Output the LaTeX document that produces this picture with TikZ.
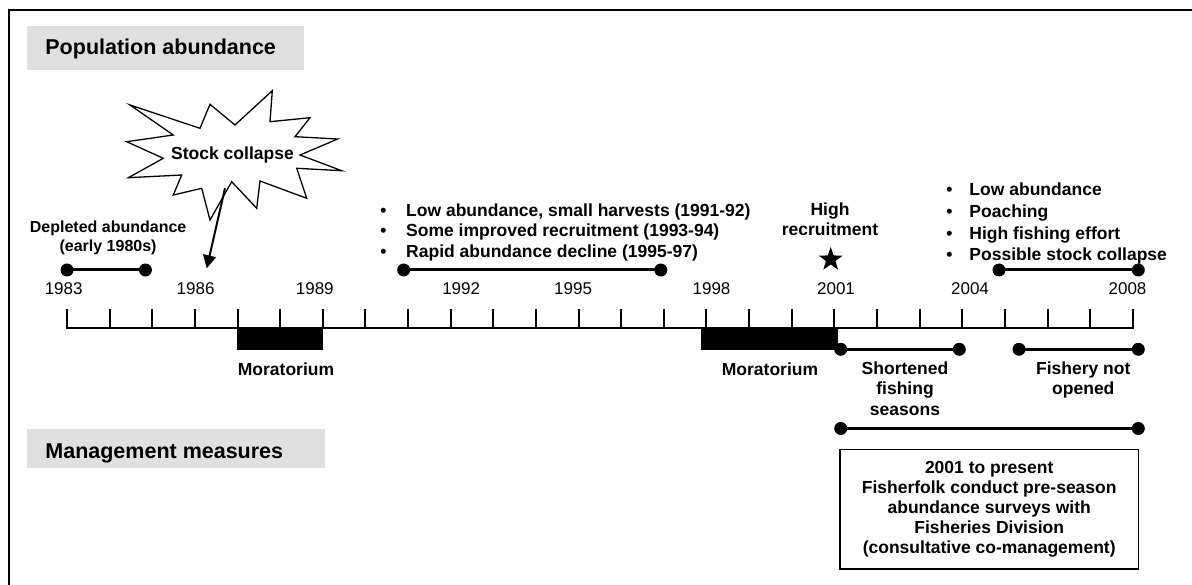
\documentclass[tikz,border=0pt]{standalone}
\usepackage{fontspec}
\setmainfont{Liberation Sans}
\usetikzlibrary{arrows.meta,shapes.geometric}
\newcommand\mytab[2]{\begin{tabular}[t]{@{}#1@{}}#2\end{tabular}}
\newcommand\dotseg[2]{\draw[dotline] (#1) -- (#2); \fill (#1) circle[radius=6.5pt] (#2) circle[radius=6.5pt];}
\begin{document}
\begin{tikzpicture}[x=1pt,y=-1pt,
  lbl/.style={inner sep=0, anchor=base, font=\bfseries\fontsize{17.5}{20.5}\selectfont},
  yr/.style={inner sep=0, anchor=base, font=\fontsize{17}{20}\selectfont},
  ttl/.style={inner sep=0, anchor=base west, font=\bfseries\fontsize{21.5}{25}\selectfont},
  graybox/.style={fill=black!12},
  dotline/.style={line width=3pt},
  tk/.style={line width=2pt},
  burst/.style={draw, line width=1.3pt, fill=white, line join=miter}]
\useasboundingbox (0,0) rectangle (1192,585);
% frame (cropped)
\draw[line width=2pt] (8.5,585) -- (8.5,10) -- (1192,10);
% section headers
\fill[graybox] (27,26) rectangle (304,70);
\node[ttl] (pop) at (45.2,55) {Population abundance};
\fill[graybox] (27,429) rectangle (325,468);
\node[ttl] (mgmt) at (45.2,458.3) {Management measures};
% timeline
\draw[tk] (66,328) -- (1133.75,328);
\foreach \i in {0,...,25} \draw[tk] ({67+42.63*\i},309) -- ({67+42.63*\i},328);
\foreach \y/\x in {1983/63.7,1986/195.6,1989/314.8,1992/461.2,1995/573.1,1998/711.5,2001/836,2004/970,2008/1127.5}
  \node[yr] (y\y) at (\x,295) {\y};
% moratoria
\fill (237.3,328) rectangle (323.4,350);
\fill (701,328) rectangle (838,350);
\node[lbl] (mor1) at (286,376) {Moratorium};
\node[lbl] (mor2) at (770,376) {Moratorium};
% stock collapse burst
\draw[burst] (130,105) -- (200,128.3) -- (210,104.3) -- (235,125) -- (272.3,90.7) -- (270,121.7)
  -- (310,117.7) -- (295,136.7) -- (337.7,139) -- (300,155) -- (341.7,170.7) -- (296.7,168.3)
  -- (306.7,198.3) -- (260,181) -- (256.7,208.3) -- (231.7,181.7) -- (210,220) -- (201.7,188.3)
  -- (173.3,195) -- (181.7,175) -- (128.3,177.7) -- (163.3,158.3) -- (126.7,141.7) -- (173.3,135) -- cycle;
\node[lbl] (collapse) at (232.5,160) {Stock collapse};
\coordinate (arrS) at (225,188.3);
\coordinate (arrE) at (206.7,268.3);
\draw[line width=2pt, -{Triangle[length=13pt,width=13pt]}] (arrS) -- (arrE);
% depleted abundance
\node[lbl, font=\bfseries\fontsize{16}{18.5}\selectfont] (depl) at (108.1,232.7) {\mytab{c}{Depleted abundance\\(early 1980s)}};
\coordinate (d1a) at (67,270); \coordinate (d1b) at (145.4,270);
\dotseg{d1a}{d1b}
% 1991-97
\node[lbl, anchor=base west] (list1) at (380.2,216.5) {\mytab{l}{%
  \makebox[25.8pt][l]{•}Low abundance, small harvests (1991-92)\\
  \makebox[25.8pt][l]{•}Some improved recruitment (1993-94)\\
  \makebox[25.8pt][l]{•}Rapid abundance decline (1995-97)}};
\coordinate (d2a) at (403.7,270); \coordinate (d2b) at (660.8,270);
\dotseg{d2a}{d2b}
% high recruitment
\node[lbl, font=\bfseries\fontsize{17.5}{19.7}\selectfont] (hirec) at (830,216) {\mytab{c}{High\\recruitment}};
\node[star, star points=5, star point ratio=2.5, fill, inner sep=0, minimum size=25pt] (star) at (830.7,259.5) {};
% 2004-2008
\node[lbl, anchor=base west, font=\bfseries\fontsize{17.5}{21.6}\selectfont] (list2) at (946.2,196) {\mytab{l}{%
  \makebox[23.1pt][l]{•}Low abundance\\
  \makebox[23.1pt][l]{•}Poaching\\
  \makebox[23.1pt][l]{•}High fishing effort\\
  \makebox[23.1pt][l]{•}Possible stock collapse}};
\coordinate (d3a) at (999,270); \coordinate (d3b) at (1138.3,270);
\dotseg{d3a}{d3b}
% management measures
\coordinate (d4a) at (840.7,349.3); \coordinate (d4b) at (959.3,349.3);
\dotseg{d4a}{d4b}
\coordinate (d5a) at (1019,349.3); \coordinate (d5b) at (1138.3,349.3);
\dotseg{d5a}{d5b}
\node[lbl] (short) at (905,374.3) {\mytab{c}{Shortened\\fishing\\seasons}};
\node[lbl] (notopen) at (1083.3,374.3) {\mytab{c}{Fishery not\\opened}};
\coordinate (d6a) at (840.7,428.5); \coordinate (d6b) at (1138.3,428.5);
\dotseg{d6a}{d6b}
\node[draw, line width=1.5pt, inner sep=0, minimum width=298.3pt, minimum height=119.7pt,
  font=\bfseries\fontsize{17.5}{20}\selectfont] (survey) at (989.2,509.2)
  {\mytab{c}{2001 to present\\Fisherfolk conduct pre-season\\abundance surveys with\\Fisheries Division\\(consultative co-management)}};
\end{tikzpicture}
\end{document}
